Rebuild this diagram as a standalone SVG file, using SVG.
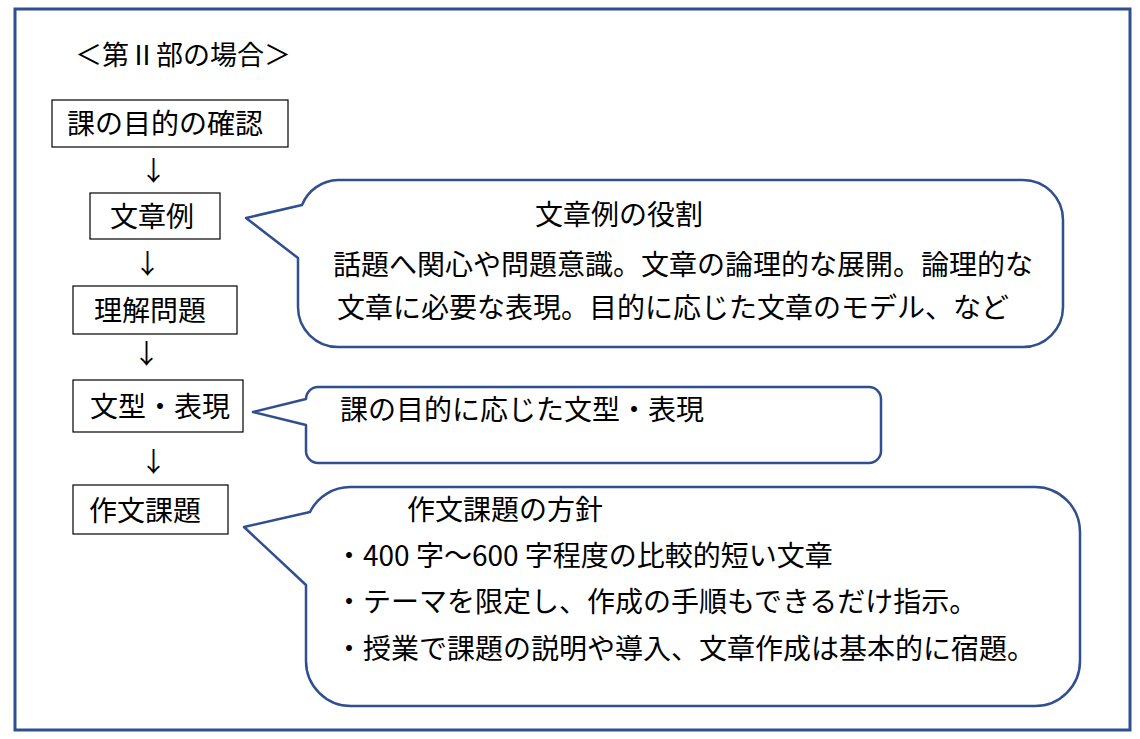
<svg xmlns="http://www.w3.org/2000/svg" width="1140" height="739" viewBox="0 0 1140 739">
<style>
text{font-family:"Noto Sans CJK JP","Noto Sans CJK SC",sans-serif;font-size:27px;fill:#000}
.l{font-size:28px}
.box{fill:#fff;stroke:#000;stroke-width:1.2}
.call{fill:#fff;stroke:#2f4f8f;stroke-width:2.5;stroke-linejoin:round}
</style>
<rect width="1140" height="739" fill="#fff"/>
<rect x="15" y="9" width="1115" height="721" fill="none" stroke="#2f4f8f" stroke-width="3"/>
<text x="75" y="65">＜第Ⅱ部の場合＞</text>
<g id="n1"><rect class="box" x="52" y="100" width="236" height="47"/><text class="l" x="67" y="134">課の目的の確認</text></g>
<g id="n2"><rect class="box" x="90" y="193" width="130" height="46"/><text class="l" x="110" y="227">文章例</text></g>
<g id="n3"><rect class="box" x="73" y="286" width="164" height="48"/><text class="l" x="94" y="321">理解問題</text></g>
<g id="n4"><rect class="box" x="73" y="380" width="170" height="52"/><text class="l" x="90" y="417">文型・表現</text></g>
<g id="n5"><rect class="box" x="73" y="485" width="155" height="49"/><text class="l" x="89" y="521">作文課題</text></g>
<g id="connectors">
<text x="140" y="181">↓</text>
<text x="134" y="274">↓</text>
<text x="133" y="364">↓</text>
<text x="140" y="472">↓</text>
</g>
<g id="c1">
<path class="call" d="M338,180 H1023 A40,40 0 0 1 1063,220 V307 A40,40 0 0 1 1023,347 H338 A40,40 0 0 1 298,307 V258 L246,218 L302,205 A40,40 0 0 1 338,180 Z"/>
<text class="l" x="535" y="225">文章例の役割</text>
<text class="l" x="333" y="275">話題へ関心や問題意識。文章の論理的な展開。論理的な</text>
<text class="l" x="337" y="318">文章に必要な表現。目的に応じた文章のモデル、など</text>
</g>
<g id="c2">
<path class="call" d="M318,387 H869 A12,12 0 0 1 881,399 V451 A12,12 0 0 1 869,463 H318 A12,12 0 0 1 306,451 V425 L253,412 L306,399 A12,12 0 0 1 318,387 Z"/>
<text class="l" x="340" y="420">課の目的に応じた文型・表現</text>
</g>
<g id="c3">
<path class="call" d="M351,487 H1035 A45,45 0 0 1 1080,532 V661 A45,45 0 0 1 1035,706 H351 A45,45 0 0 1 306,661 V585 L244,527 L310,512 A45,45 0 0 1 351,487 Z"/>
<text class="l" x="407" y="520">作文課題の方針</text>
<text class="l" x="335" y="566">・400 字～600 字程度の比較的短い文章</text>
<text class="l" x="335" y="612">・テーマを限定し、作成の手順もできるだけ指示。</text>
<text class="l" x="335" y="659">・授業で課題の説明や導入、文章作成は基本的に宿題。</text>
</g>
</svg>
